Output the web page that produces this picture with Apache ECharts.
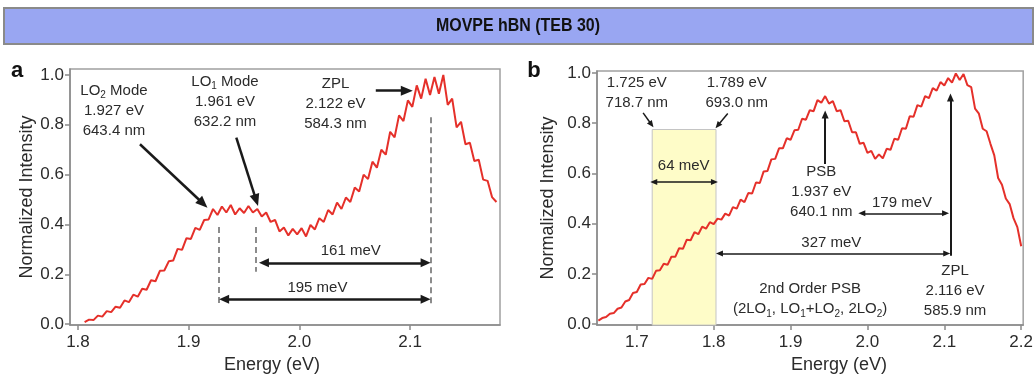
<!DOCTYPE html>
<html><head><meta charset="utf-8">
<script src="https://cdn.jsdelivr.net/npm/echarts@6/dist/echarts.min.js"></script>
<style>html,body{margin:0;padding:0;background:#fff}#c{width:1036px;height:379px}</style>
</head><body><div id="c"></div>
<script>
// ---------- data ----------
const energyA = [1.806,1.810,1.814,1.818,1.822,1.826,1.830,1.834,1.838,1.842,
  1.846,1.850,1.854,1.858,1.862,1.866,1.870,1.874,1.878,1.882,
  1.886,1.890,1.894,1.898,1.902,1.906,1.910,1.914,1.918,1.922,
  1.926,1.930,1.934,1.938,1.942,1.946,1.950,1.954,1.958,1.962,
  1.966,1.970,1.974,1.978,1.982,1.986,1.990,1.994,1.998,2.002,
  2.006,2.010,2.014,2.018,2.022,2.026,2.030,2.034,2.038,2.042,
  2.046,2.050,2.054,2.058,2.062,2.066,2.070,2.074,2.078,2.082,
  2.086,2.090,2.094,2.098,2.102,2.106,2.110,2.114,2.118,2.122,
  2.126,2.130,2.134,2.138,2.142,2.146,2.150,2.154,2.158,2.162,
  2.166,2.170,2.174,2.178];
const intensityA = [0.008,0.018,0.016,0.034,0.030,0.052,0.048,0.070,0.066,0.095,
  0.088,0.118,0.110,0.142,0.138,0.176,0.172,0.214,0.215,0.252,
  0.255,0.302,0.298,0.345,0.342,0.386,0.378,0.418,0.420,0.462,
  0.438,0.472,0.448,0.478,0.440,0.465,0.446,0.474,0.448,0.462,
  0.432,0.448,0.410,0.418,0.372,0.388,0.356,0.382,0.360,0.385,
  0.352,0.398,0.380,0.425,0.410,0.458,0.440,0.488,0.462,0.508,
  0.490,0.548,0.532,0.600,0.582,0.652,0.628,0.700,0.680,0.772,
  0.750,0.838,0.815,0.898,0.872,0.958,0.905,0.985,0.920,0.992,
  0.925,1.000,0.880,0.905,0.790,0.812,0.722,0.728,0.655,0.660,
  0.580,0.575,0.510,0.490];
const energyB = [1.650,1.655,1.660,1.665,1.670,1.675,1.680,1.685,1.690,1.695,
  1.700,1.705,1.710,1.715,1.720,1.725,1.730,1.735,1.740,1.745,
  1.750,1.755,1.760,1.765,1.770,1.775,1.780,1.785,1.790,1.795,
  1.800,1.805,1.810,1.815,1.820,1.825,1.830,1.835,1.840,1.845,
  1.850,1.855,1.860,1.865,1.870,1.875,1.880,1.885,1.890,1.895,
  1.900,1.905,1.910,1.915,1.920,1.925,1.930,1.935,1.940,1.945,
  1.950,1.955,1.960,1.965,1.970,1.975,1.980,1.985,1.990,1.995,
  2.000,2.005,2.010,2.015,2.020,2.025,2.030,2.035,2.040,2.045,
  2.050,2.055,2.060,2.065,2.070,2.075,2.080,2.085,2.090,2.095,
  2.100,2.105,2.110,2.115,2.120,2.125,2.130,2.135,2.140,2.145,
  2.150,2.155,2.160,2.165,2.170,2.175,2.180,2.185,2.190,2.195,
  2.200];
const intensityB = [0.014,0.024,0.028,0.041,0.044,0.061,0.066,0.090,0.096,0.124,
  0.128,0.158,0.160,0.184,0.180,0.212,0.214,0.240,0.236,0.268,
  0.268,0.302,0.300,0.336,0.334,0.366,0.358,0.388,0.380,0.406,
  0.398,0.420,0.416,0.440,0.432,0.466,0.460,0.496,0.486,0.522,
  0.520,0.564,0.562,0.608,0.610,0.656,0.658,0.700,0.700,0.740,
  0.734,0.772,0.774,0.818,0.814,0.852,0.848,0.892,0.882,0.908,
  0.878,0.888,0.848,0.852,0.808,0.810,0.764,0.764,0.718,0.722,
  0.682,0.690,0.658,0.676,0.660,0.698,0.694,0.738,0.734,0.780,
  0.778,0.828,0.826,0.872,0.866,0.908,0.900,0.940,0.930,0.964,
  0.950,0.980,0.962,0.998,0.972,0.996,0.952,0.944,0.858,0.838,
  0.778,0.768,0.718,0.672,0.582,0.555,0.500,0.478,0.422,0.386,
  0.310];
const xTicksA = [1.8, 1.9, 2.0, 2.1];
const xTicksB = [1.7, 1.8, 1.9, 2.0, 2.1, 2.2];
const yTicks = [0.0, 0.2, 0.4, 0.6, 0.8, 1.0];
const titleText = 'MOVPE hBN (TEB 30)';
const xName = 'Energy (eV)';
const yName = 'Normalized Intensity';

// ---------- styling helpers ----------
const FONT = 'Liberation Sans';
const TXT = '#2b2b2b';
const AXC = '#8a8a8a';
const RED = '#E5302A';

function seg(x1, y1, x2, y2, ls) {
  return [{coord: [x1, y1], symbol: 'none', lineStyle: ls}, {coord: [x2, y2], symbol: 'none'}];
}
function arrow(x1, y1, x2, y2, ls, size) {
  return [{coord: [x1, y1], symbol: 'none', lineStyle: ls},
          {coord: [x2, y2], symbol: 'triangle', symbolSize: size}];
}
function dbl(x1, y1, x2, y2, ls, size) {
  return [{coord: [x1, y1], symbol: 'triangle', symbolSize: size, lineStyle: ls},
          {coord: [x2, y2], symbol: 'triangle', symbolSize: size}];
}
function note(x, y, text) {
  return {coord: [x, y], value: 0, label: {formatter: text}};
}
const noteLabel = {
  show: true, position: 'inside', fontFamily: FONT, fontSize: 15, lineHeight: 20, color: TXT,
  rich: {s: {fontFamily: FONT, fontSize: 10, lineHeight: 20, verticalAlign: 'bottom', color: TXT, padding: [6, 0, 0, 0]}}
};

function xAxisCfg(idx, min, max, ticks, padLeft, padRight) {
  return {
    type: 'value', gridIndex: idx, min: min, max: max,
    axisLine: {show: true, onZero: false, lineStyle: {color: AXC, width: 1.5}},
    axisTick: {show: true, length: 5, customValues: ticks, lineStyle: {color: AXC, width: 1.5}},
    axisLabel: {customValues: ticks, formatter: v => v.toFixed(1), margin: 9,
      fontFamily: FONT, fontSize: 17, color: TXT},
    splitLine: {show: false},
    name: xName, nameLocation: 'middle', nameGap: 27,
    nameTextStyle: {fontFamily: FONT, fontSize: 18, color: TXT, padding: [0, padRight, 0, padLeft]}
  };
}
function yAxisCfg(idx, min, max, gap) {
  return {
    type: 'value', gridIndex: idx, min: min, max: max,
    axisLine: {show: true, onZero: false, lineStyle: {color: AXC, width: 1.5}},
    axisTick: {show: true, length: 5, customValues: yTicks, lineStyle: {color: AXC, width: 1.5}},
    axisLabel: {customValues: yTicks, formatter: v => v.toFixed(1), margin: 6,
      fontFamily: FONT, fontSize: 17, color: TXT},
    splitLine: {show: false},
    name: yName, nameLocation: 'middle', nameGap: gap,
    nameTextStyle: {fontFamily: FONT, fontSize: 18, color: TXT}
  };
}

const dash = {color: '#8c8c8c', width: 2, type: [6, 4]};
const blk = {color: '#1a1a1a', width: 2.5, type: 'solid'};
const thin = {color: '#1a1a1a', width: 1.5, type: 'solid'};
const vert = {color: '#1a1a1a', width: 2, type: 'solid'};

const chart = echarts.init(document.getElementById('c'), null, {renderer: 'canvas'});
chart.setOption({
  animation: false,
  backgroundColor: '#ffffff',
  grid: [
    {left: 70, top: 69, width: 430, height: 259, show: true, borderColor: '#a0a0a0', borderWidth: 1.5, containLabel: false},
    {left: 597, top: 71, width: 428, height: 257, show: true, borderColor: '#a0a0a0', borderWidth: 1.5, containLabel: false}
  ],
  xAxis: [
    xAxisCfg(0, 1.7928, 2.1812, xTicksA, 0, 26),
    xAxisCfg(1, 1.6482, 2.2026, xTicksB, 58, 0)
  ],
  yAxis: [
    yAxisCfg(0, -0.004, 1.024, 34),
    yAxisCfg(1, -0.004, 1.008, 40)
  ],
  graphic: [
    {type: 'rect', shape: {x: 4, y: 8, width: 1029, height: 36},
      style: {fill: '#99A6F2', stroke: '#8a8a8a', lineWidth: 2}},
    {type: 'text', x: 518, y: 26, scaleX: 0.84,
      style: {text: titleText, fontFamily: FONT, fontWeight: 'bold', fontSize: 19, fill: '#111',
        align: 'center', verticalAlign: 'middle'}},
    {type: 'text', x: 17, y: 71,
      style: {text: 'a', fontFamily: FONT, fontWeight: 'bold', fontSize: 22, fill: '#111', align: 'center', verticalAlign: 'middle'}},
    {type: 'text', x: 534, y: 71,
      style: {text: 'b', fontFamily: FONT, fontWeight: 'bold', fontSize: 22, fill: '#111', align: 'center', verticalAlign: 'middle'}}
  ],
  series: [
    {
      type: 'line', xAxisIndex: 0, yAxisIndex: 0, showSymbol: false, silent: true,
      data: energyA.map((e, i) => [e, intensityA[i]]),
      lineStyle: {color: RED, width: 2}, itemStyle: {color: RED}, z: 3,
      markLine: {
        silent: true, symbol: ['none', 'none'], label: {show: false}, animation: false,
        data: [
          seg(1.927, 0.39, 1.927, 0.07, dash),
          seg(1.961, 0.39, 1.961, 0.21, dash),
          seg(2.119, 0.83, 2.119, 0.08, dash),
          arrow(1.856, 0.722, 1.913, 0.484, blk, [10, 12]),
          arrow(1.943, 0.749, 1.961, 0.497, blk, [10, 12]),
          arrow(2.069, 0.937, 2.097, 0.937, blk, [10, 12]),
          dbl(1.968, 0.246, 2.114, 0.246, blk, [9, 10]),
          dbl(1.932, 0.100, 2.114, 0.100, blk, [9, 10])
        ]
      },
      markPoint: {
        silent: true, symbol: 'circle', symbolSize: 1, itemStyle: {color: 'rgba(0,0,0,0)'},
        label: noteLabel, animation: false,
        data: [
          note(1.8325, 0.857, 'LO{s|2} Mode\n1.927 eV\n643.4 nm'),
          note(1.9328, 0.894, 'LO{s|1} Mode\n1.961 eV\n632.2 nm'),
          note(2.0326, 0.885, 'ZPL\n2.122 eV\n584.3 nm'),
          note(2.0464, 0.292, '161 meV'),
          note(2.0163, 0.144, '195 meV')
        ]
      }
    },
    {
      type: 'line', xAxisIndex: 1, yAxisIndex: 1, showSymbol: false, silent: true,
      data: energyB.map((e, i) => [e, intensityB[i]]),
      lineStyle: {color: RED, width: 2}, itemStyle: {color: RED}, z: 3,
      markArea: {
        silent: true, label: {show: false},
        itemStyle: {color: '#FEFCC8', borderColor: '#c4c4c4', borderWidth: 1},
        data: [[{coord: [1.72, -0.004]}, {coord: [1.803, 0.775]}]]
      },
      markLine: {
        silent: true, symbol: ['none', 'none'], label: {show: false}, animation: false,
        data: [
          arrow(1.7082, 0.841, 1.719, 0.795, thin, [6, 7]),
          arrow(1.8183, 0.839, 1.8053, 0.791, thin, [6, 7]),
          dbl(1.722, 0.566, 1.801, 0.566, thin, [6, 7]),
          arrow(1.945, 0.638, 1.945, 0.835, vert, [7, 8]),
          dbl(1.9927, 0.441, 2.1016, 0.441, thin, [6, 7]),
          dbl(1.8075, 0.281, 2.1032, 0.281, thin, [6, 7]),
          arrow(2.108, 0.272, 2.108, 0.902, vert, [7, 8])
        ]
      },
      markPoint: {
        silent: true, symbol: 'circle', symbolSize: 1, itemStyle: {color: 'rgba(0,0,0,0)'},
        label: noteLabel, animation: false,
        data: [
          note(1.700, 0.921, '1.725 eV\n718.7 nm'),
          note(1.830, 0.921, '1.789 eV\n693.0 nm'),
          note(1.761, 0.631, '64 meV'),
          note(1.940, 0.528, 'PSB\n1.937 eV\n640.1 nm'),
          note(2.045, 0.484, '179 meV'),
          note(1.953, 0.323, '327 meV'),
          note(2.114, 0.133, 'ZPL\n2.116 eV\n585.9 nm'),
          note(1.9254, 0.0996, '2nd Order PSB\n(2LO{s|1}, LO{s|1}+LO{s|2}, 2LO{s|2})')
        ]
      }
    }
  ]
});
</script>
</body></html>
